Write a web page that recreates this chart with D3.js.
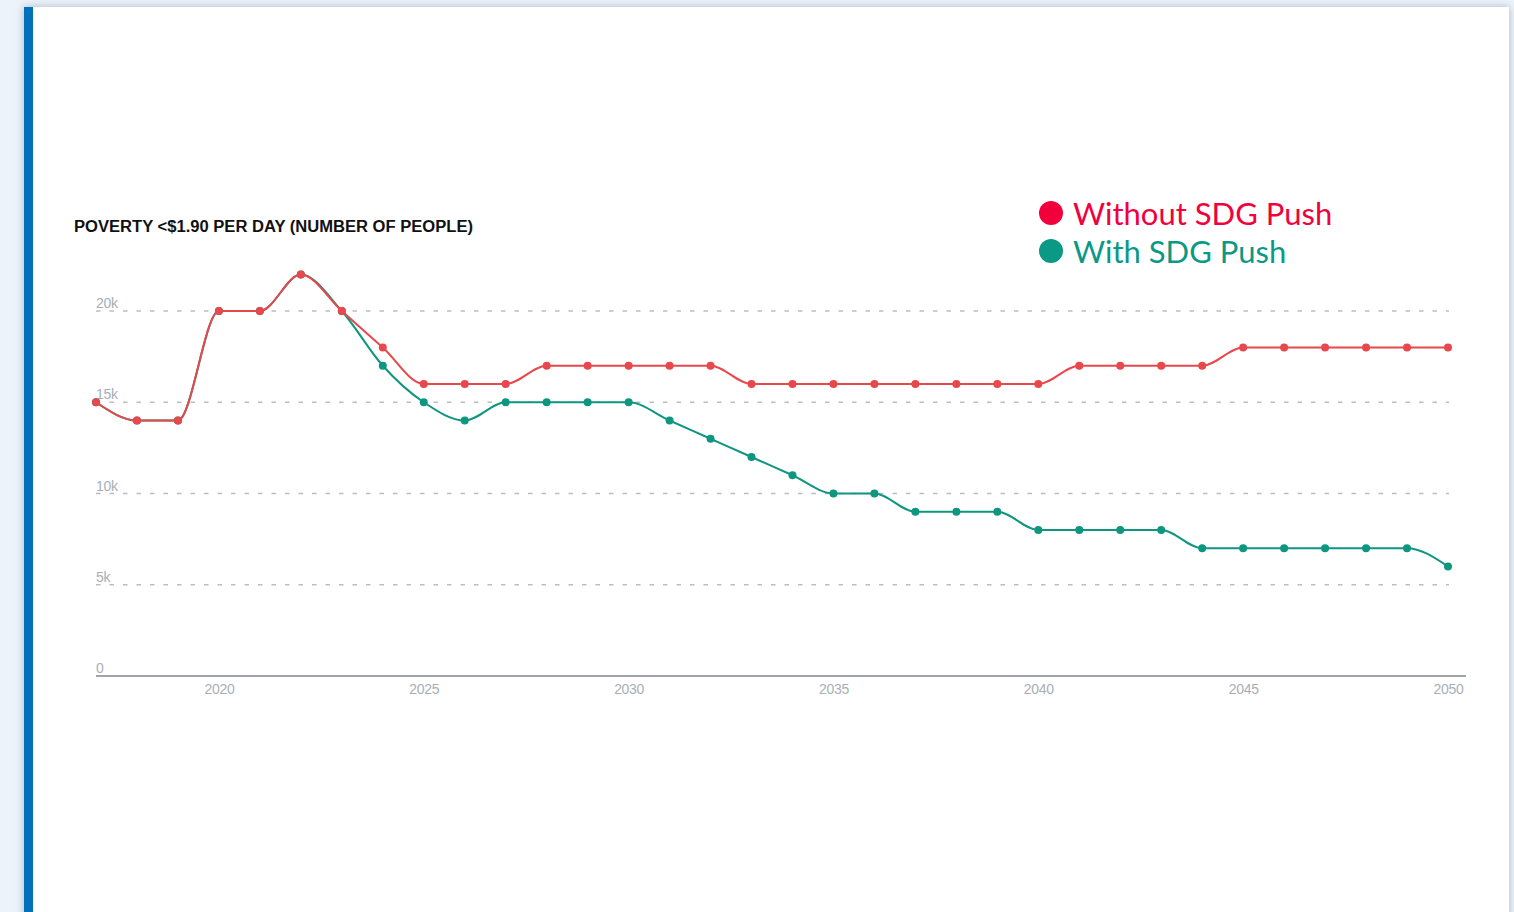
<!DOCTYPE html>
<html><head><meta charset="utf-8">
<script src="https://cdn.jsdelivr.net/npm/d3@7"></script>
<style>
html,body{margin:0;padding:0;width:1514px;height:912px;overflow:hidden;background:#edf3fa;}
#card{position:absolute;left:24px;top:7px;width:1485px;height:920px;background:#fff;box-shadow:0 0 8px rgba(120,135,155,0.55);}
#bar{position:absolute;left:24px;top:7px;width:9px;height:920px;background:#0070b8;}
svg{position:absolute;left:0;top:0;}
</style></head><body>
<div id="card"></div><div id="bar"></div>
<script>
const years = d3.range(2017, 2051);
const withoutPush = [15,14,14,20,20,22,20,18,16,16,16,17,17,17,17,17,16,16,16,16,16,16,16,16,17,17,17,17,18,18,18,18,18,18];
const withPush    = [15,14,14,20,20,22,20,17,15,14,15,15,15,15,14,13,12,11,10,10,9,9,9,8,8,8,8,7,7,7,7,7,7,6];
const yTicks = [0,5,10,15,20];
const yTickLabels = ["0","5k","10k","15k","20k"];
const xTicks = [2020,2025,2030,2035,2040,2045,2050];
const seriesNames = ["Without SDG Push","With SDG Push"];

const svg = d3.select("body").append("svg").attr("width",1514).attr("height",912);
const x = d3.scaleLinear().domain([2017,2050]).range([96,1448]);
const y = d3.scaleLinear().domain([0,22]).range([676,274.5]);

// title
svg.append("text").attr("x",74).attr("y",232)
  .attr("font-family","Liberation Sans, Arial, sans-serif").attr("font-weight","bold")
  .attr("font-size",16).attr("fill","#111").attr("textLength",399).attr("lengthAdjust","spacingAndGlyphs")
  .text("POVERTY <$1.90 PER DAY (NUMBER OF PEOPLE)");

// gridlines
const g = svg.append("g");
yTicks.forEach((t,i)=>{
  if(t>0){
    g.append("line").attr("x1",96).attr("x2",1449).attr("y1",y(t)).attr("y2",y(t))
      .attr("stroke","#babdc2").attr("stroke-width",1.5).attr("stroke-dasharray","4.5,9");
  }
  g.append("text").attr("x",96).attr("y",y(t)-3).attr("font-family","Liberation Sans, Arial, sans-serif")
    .attr("font-size",14).attr("letter-spacing",-0.3).attr("fill","#a9aeb6").text(yTickLabels[i]);
});

// x axis
svg.append("line").attr("x1",96).attr("x2",1466).attr("y1",676).attr("y2",676)
  .attr("stroke","#a0a4aa").attr("stroke-width",2);
const xa = d3.axisBottom(x).tickValues(xTicks).tickFormat(d3.format("d")).tickSize(0).tickPadding(7);
const xg = svg.append("g").attr("transform","translate(0,677)").call(xa);
xg.select(".domain").remove();
xg.selectAll("text").attr("font-family","Liberation Sans, Arial, sans-serif").attr("font-size",14)
  .attr("letter-spacing",-0.3).attr("fill","#a9aeb6");

const line = d3.line().x((d,i)=>x(years[i])).y(d=>y(d)).curve(d3.curveMonotoneX);
const colors = ["#e8474b","#0e9680"];
const data = [withoutPush, withPush];
[1,0].forEach(k=>{
  svg.append("path").datum(data[k]).attr("d",line).attr("fill","none")
    .attr("stroke",colors[k]).attr("stroke-width",2);
  svg.append("g").selectAll("circle").data(data[k]).join("circle")
    .attr("cx",(d,i)=>x(years[i])).attr("cy",d=>y(d)).attr("r",4).attr("fill",colors[k]);
});

// legend
const legColors = ["#f2003c","#0a9985"];
seriesNames.forEach((n,i)=>{
  const yy = 213 + i*38;
  svg.append("circle").attr("cx",1051).attr("cy",yy).attr("r",12).attr("fill",legColors[i]);
  svg.append("text").attr("x",1073).attr("y",yy+12).attr("font-family","Lato, 'Open Sans', sans-serif")
    .attr("font-size",31).attr("fill",legColors[i]).text(n);
});
</script>
</body></html>
